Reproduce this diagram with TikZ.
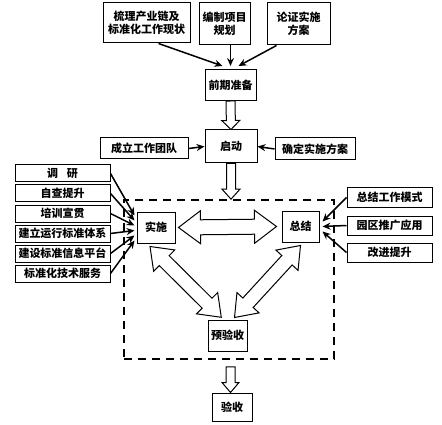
\documentclass[tikz,border=0pt]{standalone}
\usepackage{fontspec}
\setmainfont{Noto Sans CJK SC}
\usetikzlibrary{calc,arrows.meta}
\newcommand{\hollowarrow}[5]{%
  \path let \p1=(#1), \p2=(#2), \n1={atan2(\y2-\y1,\x2-\x1)}, \n2={veclen(\x2-\x1,\y2-\y1)} in
    \pgfextra{\pgfmathparse{\n1}\xdef\hang{\pgfmathresult}\pgfmathparse{\n2}\xdef\hlen{\pgfmathresult}};
  \begin{scope}[shift={(#1)}, rotate=\hang]
    \draw[harrowsty] (0,#3) -- ({\hlen-#5},#3) -- ({\hlen-#5},#4) -- (\hlen,0) -- ({\hlen-#5},-#4) -- ({\hlen-#5},-#3) -- (0,-#3) -- cycle;
  \end{scope}}
\newcommand{\hollowdarrow}[5]{%
  \path let \p1=(#1), \p2=(#2), \n1={atan2(\y2-\y1,\x2-\x1)}, \n2={veclen(\x2-\x1,\y2-\y1)} in
    \pgfextra{\pgfmathparse{\n1}\xdef\hang{\pgfmathresult}\pgfmathparse{\n2}\xdef\hlen{\pgfmathresult}};
  \begin{scope}[shift={(#1)}, rotate=\hang]
    \draw[harrowsty] (0,0) -- (#5,#4) -- (#5,#3) -- ({\hlen-#5},#3) -- ({\hlen-#5},#4) -- (\hlen,0) -- ({\hlen-#5},-#4) -- ({\hlen-#5},-#3) -- (#5,-#3) -- (#5,-#4) -- cycle;
  \end{scope}}
\begin{document}
\begin{tikzpicture}[x=1pt,y=-1pt,
  box/.style={draw, line width=1pt, inner sep=1pt, align=center, font=\bfseries\fontsize{11}{13.5}\selectfont},
  arr/.style={line width=1.5pt, -{Stealth[length=8pt,width=7pt]}},
  harrowsty/.style={draw, line width=1pt, fill=white, line join=miter},
  frame/.style={draw, line width=1.7pt, dash pattern=on 8pt off 6pt}]
\fill[white] (0,0) rectangle (442,425);
\useasboundingbox (0,0) rectangle (442,425);

% top row
\node[box, minimum width=87, minimum height=40] (b1) at (146.5,23) {梳理产业链及\\标准化工作现状};
\node[box, minimum width=51, minimum height=42] (b2) at (224.5,24) {编制项目\\规划};
\node[box, minimum width=63, minimum height=42] (b3) at (298.5,24) {论证实施\\方案};
\node[box, minimum width=51, minimum height=31] (prep) at (230.5,85) {前期准备};

% start row
\node[box, minimum width=52, minimum height=33] (start) at (231,146.5) {启动};
\node[box, minimum width=88, minimum height=21] (team) at (144,148.5) {成立工作团队};
\node[box, minimum width=80, minimum height=22] (plan) at (315,149) {确定实施方案};

% dashed frame
\node[frame, minimum width=210, minimum height=159] (fr) at (229,279.5) {};

% left stack
\node[box, minimum width=95, minimum height=17] (L1) at (62.5,173.5) {调\hspace{0.8em}研};
\node[box, minimum width=95, minimum height=17] (L2) at (62.5,193.5) {自查提升};
\node[box, minimum width=95, minimum height=17] (L3) at (62.5,213.5) {培训宣贯};
\node[box, minimum width=95, minimum height=17] (L4) at (62.5,233.5) {建立运行标准体系};
\node[box, minimum width=95, minimum height=17] (L5) at (62.5,253.5) {建设标准信息平台};
\node[box, minimum width=95, minimum height=17] (L6) at (62.5,273.5) {标准化技术服务};

% core nodes
\node[box, minimum width=38, minimum height=31] (ss) at (156,227.5) {实施};
\node[box, minimum width=37, minimum height=31] (zj) at (300.5,226.5) {总结};
\node[box, minimum width=39, minimum height=31] (yys) at (227.5,335.5) {预验收};
\node[box, minimum width=40, minimum height=28] (ys) at (232,407) {验收};

% right stack
\node[box, minimum width=85, minimum height=19] (R1) at (389.5,197.5) {总结工作模式};
\node[box, minimum width=85, minimum height=19] (R2) at (389.5,225.5) {园区推广应用};
\node[box, minimum width=85, minimum height=19] (R3) at (389.5,252.5) {改进提升};

% top arrows
\draw[arr] ($(b1.south)+(12,0)$) -- ($(prep.north)+(-8,-3)$);
\draw[arr] (b2.south -| prep.north) -- ($(prep.north)+(0,-3)$);
\draw[arr] ($(b3.south)+(-22,0)$) -- ($(prep.north)+(8,-3)$);

% side arrows to start
\draw[arr] (team.east) -- (start.west);
\draw[arr] (plan.west) -- (start.east);

% left arrows
\draw[arr] (L1.east) -- ($(ss.west)+(-2,-12)$);
\draw[arr] (L2.east) -- ($(ss.west)+(-2,-7)$);
\draw[arr] (L3.east) -- ($(ss.west)+(-2,-2)$);
\draw[arr] (L4.east) -- ($(ss.west)+(-2,3)$);
\draw[arr] (L5.east) -- ($(ss.west)+(-2,8)$);
\draw[arr] (L6.east) -- ($(ss.west)+(-2,13)$);

% right arrows
\draw[arr] (R1.west) -- ($(zj.east)+(3,-5)$);
\draw[arr] (R2.west) -- ($(zj.east)+(3,0)$);
\draw[arr] (R3.west) -- ($(zj.east)+(3,5)$);

% hollow arrows
\hollowarrow{prep.south}{start.north}{4.5}{9}{9}
\hollowarrow{start.south}{start.south |- fr.north}{4.5}{9}{10}
\hollowarrow{$(fr.south)+(1.5,7)$}{ys.north -| {$(fr.south)+(1.5,7)$}}{4.5}{8.5}{10}
\hollowdarrow{$(ss.east)+(3,0)$}{$(zj.west)+(-5,0)$}{7.5}{16.5}{22}
\hollowdarrow{$(ss.south)+(-6,3)$}{$(yys.north west)+(14,-2)$}{7}{15}{20}
\hollowdarrow{$(zj.south)+(0,3)$}{$(yys.north east)+(-13,-2)$}{7}{15}{20}
\end{tikzpicture}
\end{document}
